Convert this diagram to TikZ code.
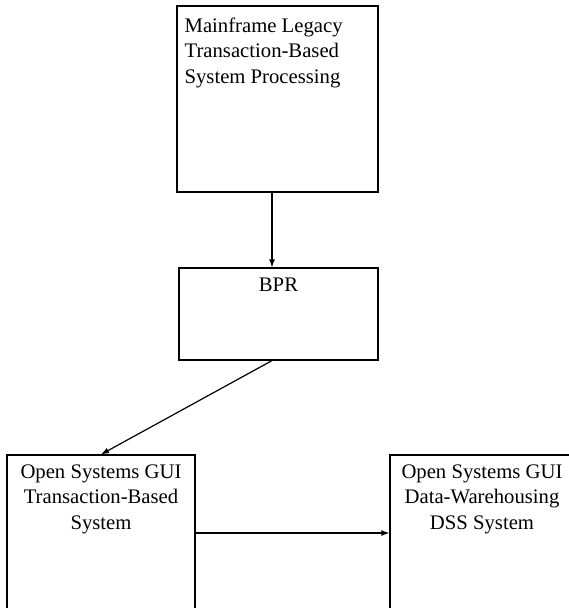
\documentclass[tikz,border=0pt]{standalone}
\usepackage{fontspec}
\setmainfont{Liberation Serif}
\usetikzlibrary{positioning,arrows.meta}
\tikzset{
  blk/.style={draw, line width=1.2pt, inner sep=0pt},
  lbl/.style={inner sep=0pt, font=\fontsize{20.7}{25.5}\selectfont},
  arr/.style={-{Latex[length=8pt,width=6pt]}, line width=1.2pt},
}

\begin{document}
\begin{tikzpicture}[x=1pt,y=-1pt]
    \useasboundingbox (0,0) rectangle (569,608);
    \clip (0,0) rectangle (569,608);
    % boxes
    \node[blk, minimum width=201pt, minimum height=186pt] (main) at (277.5,99) {};
    \node[blk, minimum width=199pt, minimum height=92pt] (bpr) at (278.5,314) {};
    \node[blk, minimum width=188pt, minimum height=186pt] (gui) at (101,548) {};
    \node[blk, minimum width=188pt, minimum height=186pt] (dss) at (484,548) {};
    % texts
    \node[lbl, align=left, below right=12pt and 8pt of main.north west] (maintxt) {Mainframe Legacy\\Transaction-Based\\System Processing};
    \node[lbl, below=10pt of bpr.north] (bprtxt) {BPR};
    \node[lbl, align=center, below=10pt of gui.north] (guitxt) {Open Systems GUI\\Transaction-Based\\System};
    \node[lbl, align=center, below=10pt of dss.north, xshift=-2pt] (dsstxt) {Open Systems GUI\\Data-Warehousing\\DSS System};
    % arrows
    \draw[arr] ([xshift=-5.5pt]main.south) -- ([xshift=-6.5pt]bpr.north);
    \draw[arr] ([xshift=-6.5pt]bpr.south) -- (gui.north);
    \draw[arr] ([yshift=15pt]gui.east) -- ([yshift=15pt]dss.west);
\end{tikzpicture}
\end{document}
